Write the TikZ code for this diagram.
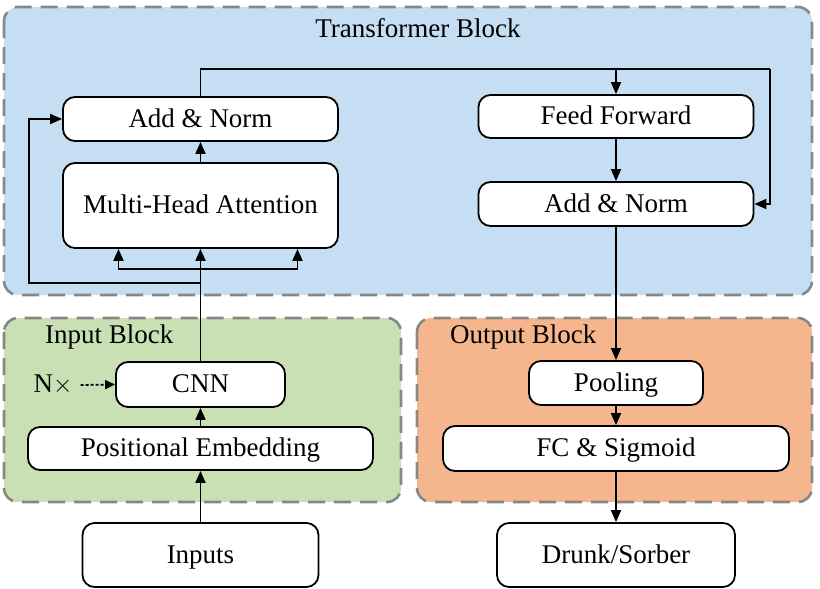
\documentclass[tikz,border=0pt]{standalone}
\usepackage{fontspec}
\setmainfont{Liberation Serif}
\usetikzlibrary{arrows.meta}
\definecolor{tblue}{RGB}{197,222,243}
\definecolor{igreen}{RGB}{200,224,180}
\definecolor{oorange}{RGB}{245,182,142}
\definecolor{dashgray}{RGB}{135,135,135}
\tikzset{
  groupbox/.style={draw=dashgray, line width=2.6pt, dash pattern=on 17pt off 9pt, rounded corners=14pt},
  stepbox/.style={draw=black, fill=white, line width=1.8pt, rounded corners=12pt, inner sep=0pt, text height=22pt, text depth=6pt, font=\fontsize{27}{30}\selectfont},
  grouptitle/.style={font=\fontsize{27}{30}\selectfont, inner sep=0pt},
  arr/.style={line width=1.8pt, -{Triangle[length=12pt,width=10pt]}},
  ln/.style={line width=1.8pt},
}
\begin{document}
\begin{tikzpicture}[x=1pt,y=-1pt]
\useasboundingbox (0,0) rectangle (820,589);
% group blocks
\draw[groupbox, fill=tblue] (4,7) rectangle (812,295);
\draw[groupbox, fill=igreen] (4,318) rectangle (401,502);
\draw[groupbox, fill=oorange] (417,318) rectangle (812,502);
\node[grouptitle] (ttitle) at (418,28) {Transformer Block};
\node[grouptitle, anchor=west] (ititle) at (45,337) {Input Block};
\node[grouptitle, anchor=west] (otitle) at (450,337) {Output Block};
% nodes
\node[stepbox, minimum width=275pt, minimum height=44pt] (an1) at (200.5,119) {Add \& Norm};
\node[stepbox, minimum width=275pt, minimum height=85pt] (mha) at (200.5,205.5) {Multi-Head Attention};
\node[stepbox, minimum width=275pt, minimum height=43pt] (ff) at (616,116.5) {Feed Forward};
\node[stepbox, minimum width=275pt, minimum height=44pt] (an2) at (616,204) {Add \& Norm};
\node[stepbox, minimum width=169pt, minimum height=45pt] (cnn) at (200.5,384.5) {CNN};
\node[stepbox, minimum width=345pt, minimum height=43pt] (pe) at (200.5,448.5) {Positional Embedding};
\node[stepbox, minimum width=236pt, minimum height=64pt] (inp) at (200.5,555) {Inputs};
\node[stepbox, minimum width=174pt, minimum height=44pt] (pool) at (616,383) {Pooling};
\node[stepbox, minimum width=346pt, minimum height=45pt] (fc) at (616,448.5) {FC \& Sigmoid};
\node[stepbox, minimum width=238pt, minimum height=64pt] (out) at (616,555) {Drunk/Sorber};
\node[grouptitle] (nx) at (53,385) {N$\times$};
% coordinates
\coordinate (split) at (200.5,269);
\coordinate (skip) at (200.5,283);
\coordinate (skipL) at (29,283);
\coordinate (topL) at (200.5,69);
\coordinate (topR) at (770,69);
% connectors
\draw[arr] (inp.north) -- (pe.south);
\draw[arr] (pe.north) -- (cnn.south);
\draw[arr] (cnn.north) -- (mha.south);
\draw[arr] (split) -| ([xshift=-82pt]mha.south);
\draw[arr] (split) -| ([xshift=97pt]mha.south);
\draw[arr] (skip) -- (skipL) |- (an1.west);
\draw[arr] (mha.north) -- (an1.south);
\draw[ln] (an1.north) -- (topL) -- (topR);
\draw[arr] (topR) |- (an2.east);
\draw[arr] (topL -| ff.north) -- (ff.north);
\draw[arr] (ff.south) -- (an2.north);
\draw[arr] (an2.south) -- (pool.north);
\draw[arr] (pool.south) -- (fc.north);
\draw[arr] (fc.south) -- (out.north);
\draw[line width=1.8pt, dash pattern=on 3pt off 2pt, -{Triangle[length=10pt,width=9pt]}] ([xshift=8pt]nx.east) -- (cnn.west);
\end{tikzpicture}
\end{document}
